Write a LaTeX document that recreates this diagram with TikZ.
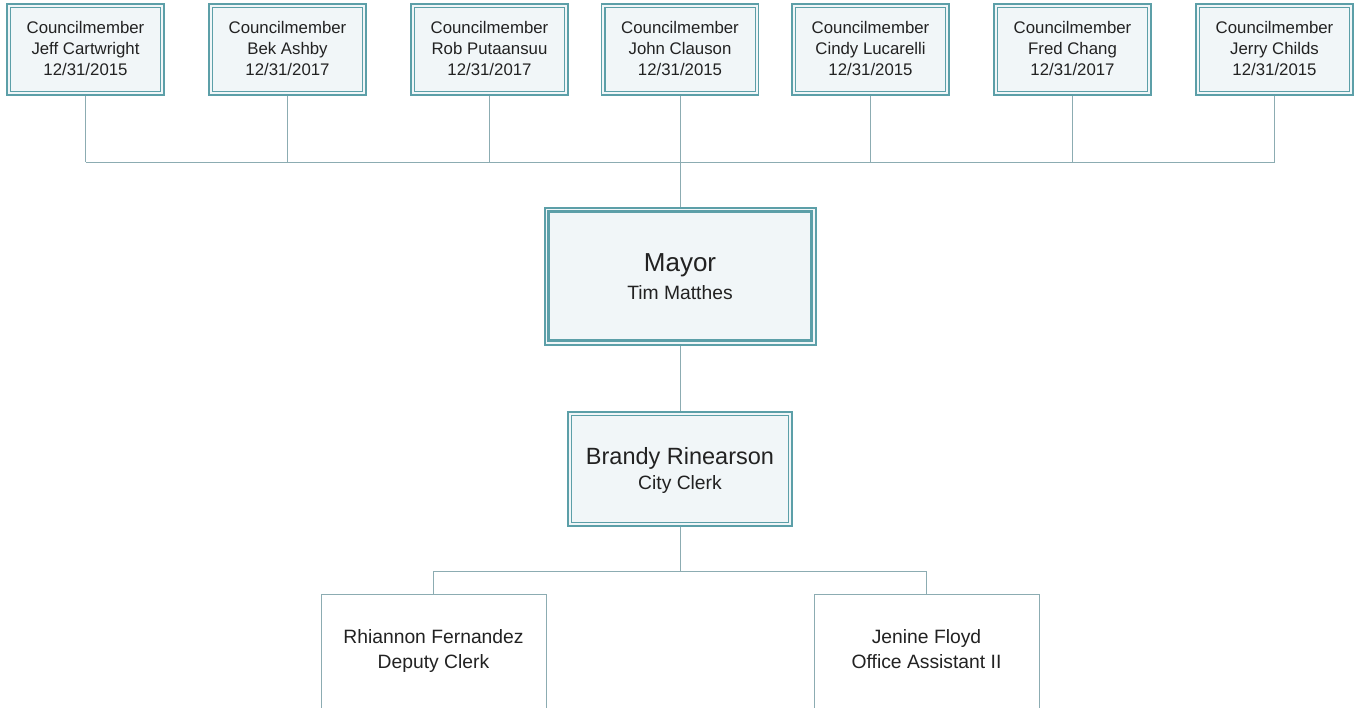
\documentclass[tikz,border=0pt]{standalone}
\usepackage{fontspec}
\setmainfont{Liberation Sans}
\definecolor{edge}{RGB}{92,159,168}
\definecolor{wire}{RGB}{140,172,178}
\definecolor{panel}{RGB}{241,246,248}
\definecolor{ink}{RGB}{34,34,34}
\begin{document}
\begin{tikzpicture}[x=1pt,y=-1pt,
  every node/.style={text=ink,align=center,inner sep=0pt},
  council/.style={draw=edge,line width=1.2pt,fill=panel,minimum width=157pt,minimum height=91pt},
  clerkbox/.style={draw=edge,line width=1.2pt,fill=panel,minimum width=224pt,minimum height=114pt},
  mayorbox/.style={draw=edge,line width=2pt,fill=panel,minimum width=271pt,minimum height=137pt},
  staff/.style={draw=wire,line width=1pt,fill=white,minimum width=225pt,minimum height=118pt},
  small/.style={anchor=base,font=\fontsize{16.8}{21}\selectfont},
  mid/.style={anchor=base,font=\fontsize{19.3}{24}\selectfont},
  big/.style={anchor=base,font=\fontsize{23.5}{28}\selectfont},
  huge/.style={anchor=base,font=\fontsize{26}{30}\selectfont},
  inner/.style={draw=edge,line width=1.2pt},
  link/.style={draw=wire,line width=1pt}]
\useasboundingbox (0,0) rectangle (1356,707);
\clip (0,0) rectangle (1356,707);

% council row: framed boxes with role, name and end of term
\foreach \n/\x/\who/\yr in {c1/85.5/Jeff Cartwright/2015,c2/287.5/Bek Ashby/2017,
    c3/489.5/Rob Putaansuu/2017,c4/680/John Clauson/2015,c5/870.5/Cindy Lucarelli/2015,
    c6/1072.5/Fred Chang/2017,c7/1274.5/Jerry Childs/2015}{
  \node[council] (\n) at (\x,49.5) {};
  \draw[inner] ([xshift=4pt,yshift=-4pt]\n.north west) rectangle ([xshift=-4pt,yshift=4pt]\n.south east);
  \node[small] (\n-role) at (\x,33) {Councilmember};
  \node[small] (\n-name) at (\x,54) {\who};
  \node[small] (\n-term) at (\x,75) {12/31/\yr};
}

% mayor
\node[mayorbox] (mayor) at (680,276) {};
\draw[edge,line width=2.4pt] ([xshift=5pt,yshift=-5pt]mayor.north west) rectangle ([xshift=-5pt,yshift=5pt]mayor.south east);
\node[huge] (mayor-title) at (680,271) {Mayor};
\node[mid] (mayor-name) at (680,299) {Tim Matthes};

% city clerk
\node[clerkbox] (clerk) at (680,469) {};
\draw[inner] ([xshift=4pt,yshift=-4pt]clerk.north west) rectangle ([xshift=-4pt,yshift=4pt]clerk.south east);
\node[big] (clerk-name) at (680,464) {Brandy Rinearson};
\node[mid] (clerk-title) at (680,489) {City Clerk};

% staff
\node[staff] (s1) at (433.5,653) {};
\node[mid] (s1-name) at (433.5,643) {Rhiannon Fernandez};
\node[mid] (s1-title) at (433.5,668) {Deputy Clerk};
\node[staff] (s2) at (926.5,653) {};
\node[mid] (s2-name) at (926.5,643) {Jenine Floyd};
\node[mid] (s2-title) at (926.5,668) {Office Assistant II};

% connectors
\coordinate (bus) at (680,162);
\foreach \c in {c1,c2,c3,c4,c5,c6,c7}
  \draw[link] (\c.south) -- (\c.south |- bus);
\draw[link] (c1.south |- bus) -- (c7.south |- bus);
\draw[link] (c4.south) -- (mayor.north);
\draw[link] (mayor.south) -- (clerk.north);
\coordinate (split) at (680,571);
\draw[link] (clerk.south) -- (split);
\draw[link] (s1.north) -- (s1.north |- split) -- (s2.north |- split) -- (s2.north);
\end{tikzpicture}
\end{document}
